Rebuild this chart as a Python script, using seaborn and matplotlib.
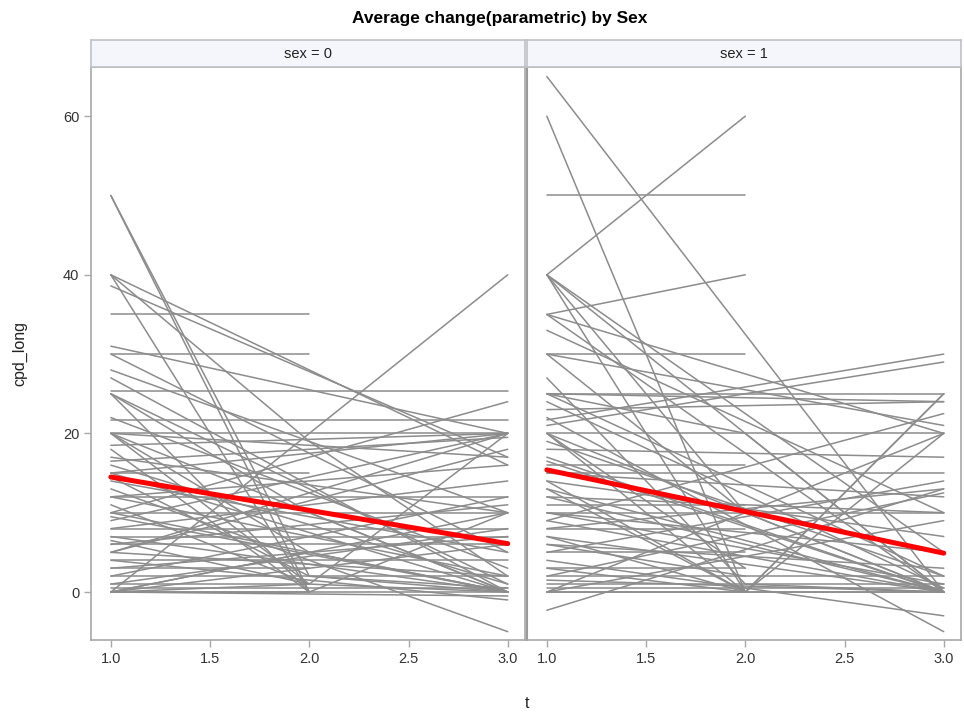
import numpy as np
import pandas as pd
import matplotlib
matplotlib.use("Agg")
import matplotlib.pyplot as plt
import seaborn as sns

nan = np.nan
# ---- data: subject trajectories, values at t = 1, 2, 3 (nan = not observed)
t_levels = [1.0, 2.0, 3.0]

sex0_y1 = [50, 50, 40, 40, 38.6, 40, 35, 31, 30, 30, 28, 27, 25, 25, 25, 25.3, 21.7, 20, 20, 20,
           20, 18.5, 17, 15, 15, 15, 14, 12, 12, 10, 10, 10, 9, 8, 7, 7, 6, 6, 5, 5,
           4, 4, 3, 2, 2, 1, 1, 0.5, 0, 0, 0, 0, 0, 0, 13, 16, 22, 18, 0, 3,
           12, 16.5, 9.5, 11, 5, 14.5, 0, 8, 20, 6.5]
sex0_y2 = [0, 2, 19, nan, nan, 0, 35, nan, 30, nan, nan, nan, 0, nan, 10, 25.3, 21.7, 20, nan, 1,
           5, nan, nan, 15, nan, nan, nan, nan, nan, 10, nan, nan, nan, 8, nan, 7, nan, 6, nan, nan,
           nan, 4, 3, nan, 2, nan, 1, nan, nan, nan, 0, nan, 5, 1, nan, nan, nan, 0, 0, nan,
           12, nan, nan, 1, nan, 2, nan, nan, nan, 1]
sex0_y3 = [nan, 0, 2, 16, 17, nan, nan, 20, nan, 5, 10, 0, nan, 1, 0, 25.3, 21.7, 20, 0, nan,
           0, 20, 10, nan, 20, 0, 5, 16, 2, 10, 0, 24, 20, 8, 0, 7, 11, 6, 2, 18,
           -1, 4, nan, 12, 2, 8, nan, 0.5, 40, 10, 0, 6, nan, 20, -5, 1, 3, nan, 10, 7,
           12, 19.5, 0, nan, 20, 0.5, -0.5, 14, 17, 0]

sex1_y1 = [65, 60, 40, 50, 35, 30, 40, 40, 40, 40, 33, 35, 30, 21.7, 21, 25, 25, 25, 25, 20,
           20, 20, 17, 16, 15, 15, 14, 13, 12, 11, 10, 10, 9, 8, 7, 7, 6, 5, 4, 3,
           2, 1.5, 1, 0.5, 0, 0, -2.3, 0, 22, 18, 30, 23, 12, 5, 3, 8, 19, 24, 16.5, 9,
           14, 6, 27, 35, 0, 2, 10, 20, 13]
sex1_y2 = [nan, 0, 60, 50, 40, 30, nan, 0, nan, 10, nan, nan, 10, nan, nan, 25, nan, 20, nan, 20,
           nan, 0, nan, 16, nan, 15, 0, nan, nan, 11, nan, 10, nan, nan, 0, nan, nan, 5, nan, 3,
           2, nan, 1, 0.5, 0, 0, nan, nan, nan, nan, nan, nan, nan, nan, 0, 8, nan, nan, nan, nan,
           nan, 2, 1, nan, nan, nan, nan, 3, 0]
sex1_y3 = [0, nan, nan, nan, nan, nan, 0, nan, 5, 0, 10, 0, nan, 30, 29, 25, 2, 0, 24, 20,
           0, 25, 0, nan, 12, 15, nan, 0, 0, nan, 5, 10, 0, 13, 20, 0, 3, nan, -3, nan,
           2, 0, 1, 0.5, 0, 25, 13, 9, -5, 17, 21, 24, 10, 14, nan, nan, 2, 0.5, 0, 22.5,
           7, nan, 0, 20, 20, 12.5, 1, nan, 0]

# parametric average change (fitted line) per sex
fit_t = [1.0, 3.0]
fit_sex0 = [14.5, 6.1]
fit_sex1 = [15.4, 4.9]

panel_labels = ["sex = 0", "sex = 1"]
x_ticks = [1.0, 1.5, 2.0, 2.5, 3.0]
y_ticks = [0, 20, 40, 60]


def long_frame(y1, y2, y3):
    rows = []
    for sid, vals in enumerate(zip(y1, y2, y3)):
        for tt, v in zip(t_levels, vals):
            if not np.isnan(v):
                rows.append((sid, tt, v))
    return pd.DataFrame(rows, columns=["subject", "t", "cpd_long"])


frames = [long_frame(sex0_y1, sex0_y2, sex0_y3), long_frame(sex1_y1, sex1_y2, sex1_y3)]
fits = [pd.DataFrame({"t": fit_t, "cpd_long": fit_sex0}),
        pd.DataFrame({"t": fit_t, "cpd_long": fit_sex1})]

sns.set_theme(style="white")
plt.rcParams["font.family"] = ["Liberation Sans", "DejaVu Sans"]

W, H = 964, 719
fig = plt.figure(figsize=(W / 100, H / 100), dpi=100)
fig.patch.set_facecolor("white")

frame_col = "#a8a8a8"
line_col = "#8c8c8c"
panels = [(91, 525), (527, 961)]
top_px, bot_px = 67, 640
strip_top = 40

for i, (x0, x1) in enumerate(panels):
    ax = fig.add_axes([x0 / W, 1 - bot_px / H, (x1 - x0) / W, (bot_px - top_px) / H])
    sns.lineplot(data=frames[i], x="t", y="cpd_long", units="subject", estimator=None,
                 color=line_col, lw=1.1, ax=ax, legend=False, sort=False)
    sns.lineplot(data=fits[i], x="t", y="cpd_long", color="#ff0000", lw=3.6, ax=ax,
                 legend=False, estimator=None)
    ax.set_xlim(0.9, 3.087)
    ax.set_ylim(-6.05, 66.2)
    ax.set_xticks(x_ticks)
    ax.set_xticklabels([f"{v:.1f}" for v in x_ticks])
    ax.set_yticks(y_ticks)
    ax.set_xlabel("")
    ax.set_ylabel("")
    for s in ax.spines.values():
        s.set_color(frame_col)
        s.set_linewidth(1.2)
    ax.tick_params(axis="both", colors=frame_col, labelcolor="#333333", labelsize=10.5,
                   length=5, width=1, direction="out", bottom=True, left=(i == 0))
    if i == 1:
        ax.set_yticklabels([])
        ax.spines["left"].set_color("#9a9a9a")
        ax.spines["left"].set_linewidth(1.5)
    # strip header
    sax = fig.add_axes([x0 / W, 1 - top_px / H, (x1 - x0) / W, (top_px - strip_top) / H])
    sax.set_facecolor("#f5f6fc")
    sax.set_xticks([])
    sax.set_yticks([])
    for s in sax.spines.values():
        s.set_color("#c0c0c8")
        s.set_linewidth(1.2)
    sax.text(0.5, 0.5, panel_labels[i], ha="center", va="center", fontsize=10.5,
             color="#222222", transform=sax.transAxes)

fig.text(527 / W, 1 - 703 / H, "t", ha="center", va="center", fontsize=11.5, color="#222222")
fig.text(20 / W, 1 - 354 / H, "cpd_long", ha="center", va="center", rotation=90,
         fontsize=11.5, color="#222222")
fig.text(500 / W, 1 - 18 / H, "Average change(parametric) by Sex", ha="center", va="center",
         fontsize=12.5, fontweight="bold", color="#000000")

fig.savefig("out.png", dpi=100, facecolor="white")
